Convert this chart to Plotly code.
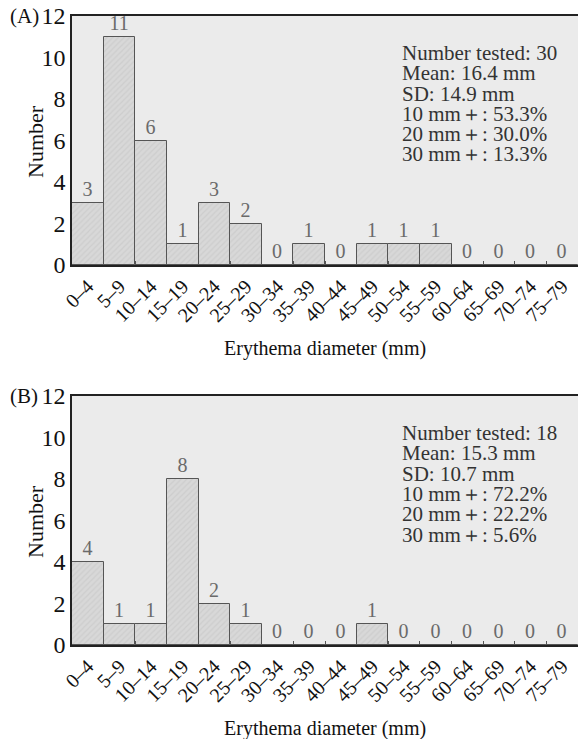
import plotly.graph_objects as go

bins = ["0–4", "5–9", "10–14", "15–19", "20–24", "25–29", "30–34", "35–39",
        "40–44", "45–49", "50–54", "55–59", "60–64", "65–69", "70–74", "75–79"]
counts_a = [3, 11, 6, 1, 3, 2, 0, 1, 0, 1, 1, 1, 0, 0, 0, 0]
counts_b = [4, 1, 1, 8, 2, 1, 0, 0, 0, 1, 0, 0, 0, 0, 0, 0]
stats_a = ["Number tested: 30", "Mean: 16.4 mm", "SD: 14.9 mm",
           "10 mm＋: 53.3%", "20 mm＋: 30.0%", "30 mm＋: 13.3%"]
stats_b = ["Number tested: 18", "Mean: 15.3 mm", "SD: 10.7 mm",
           "10 mm＋: 72.2%", "20 mm＋: 22.2%", "30 mm＋: 5.6%"]
panel_labels = ["(A)", "(B)"]
x_title = "Erythema diameter (mm)"
y_title = "Number"

W, H = 579, 739
ML, MR, MT, MB = 72, 1, 16, 94
FONT = "Liberation Serif"

fig = go.Figure()
for i, (counts, xa, ya) in enumerate([(counts_a, "x", "y"), (counts_b, "x2", "y2")]):
    fig.add_trace(go.Bar(
        x=bins, y=counts, xaxis=xa, yaxis=ya, width=1.0,
        marker=dict(color="#d4d4d4", line=dict(color="#555555", width=1),
                    pattern=dict(shape="/", fgcolor="#c2c2c2", bgcolor="#d8d8d8", size=4, solidity=0.3)),
        text=[str(c) for c in counts], textposition="outside", cliponaxis=False,
        textfont=dict(family=FONT, size=20, color="#6a6a6a"),
        showlegend=False,
    ))

plot_h = H - MT - MB
dom_a = [(645 - 265) / plot_h, 1.0]
dom_b = [0.0, (645 - 396) / plot_h]

axis_x = dict(type="category", tickangle=-45, showline=True, linecolor="#222", linewidth=1.5,
              mirror=True, ticks="inside", tickson="boundaries", ticklen=4, tickcolor="#555",
              tickfont=dict(family=FONT, size=20, color="#111"),
              showgrid=False, range=[-0.5, 15.5])
axis_y = dict(range=[0, 12], dtick=2, showline=True, linecolor="#222", linewidth=1.5,
              ticks="", tickfont=dict(family=FONT, size=24, color="#111"), showgrid=False, zeroline=False)

fig.update_layout(
    width=W, height=H, margin=dict(l=ML, r=MR, t=MT, b=MB),
    paper_bgcolor="white", plot_bgcolor="#ebebeb", bargap=0,
    xaxis=dict(axis_x, anchor="y"), yaxis=dict(axis_y, domain=dom_a, anchor="x"),
    xaxis2=dict(axis_x, anchor="y2"), yaxis2=dict(axis_y, domain=dom_b, anchor="x2"),
)

pw = W - ML - MR

def px_x(p):
    return (p - ML) / pw

def px_y(p):
    return 1 - (p - MT) / plot_h

anns = []
for stats, top, lab_y, bottom in [(stats_a, 53, 16, 265), (stats_b, 433, 396, 645)]:
    for k, s in enumerate(stats):
        anns.append(dict(text=s, x=px_x(400), y=px_y(top + 20.3 * k), xref="paper", yref="paper",
                         xanchor="left", yanchor="middle", showarrow=False,
                         font=dict(family=FONT, size=21, color="#333")))
    anns.append(dict(text=x_title, x=px_x(325), y=px_y(bottom + 83), xref="paper", yref="paper",
                     xanchor="center", yanchor="middle", showarrow=False,
                     font=dict(family=FONT, size=20, color="#111")))
    anns.append(dict(text=y_title, x=px_x(35), y=px_y(lab_y + 126), xref="paper", yref="paper",
                     xanchor="center", yanchor="middle", showarrow=False, textangle=-90,
                     font=dict(family=FONT, size=22, color="#111")))
for lab, yy in zip(panel_labels, [16, 396]):
    anns.append(dict(text=lab, x=px_x(8), y=px_y(yy), xref="paper", yref="paper",
                     xanchor="left", yanchor="middle", showarrow=False,
                     font=dict(family=FONT, size=21, color="#111")))
fig.update_layout(annotations=anns)

fig.write_html("out.html")
